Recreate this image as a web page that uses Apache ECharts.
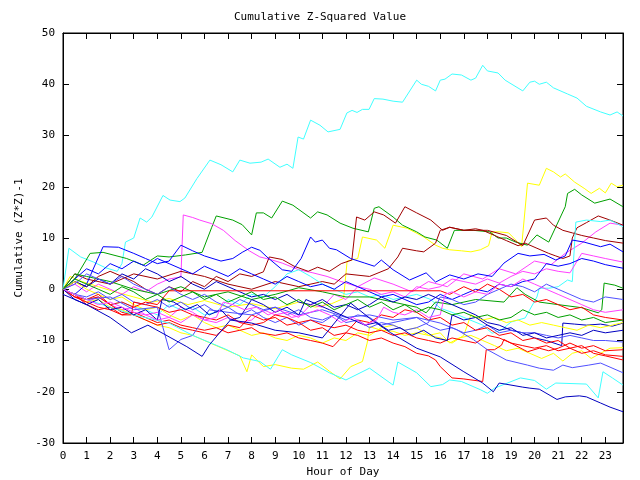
<!DOCTYPE html>
<html><head><meta charset="utf-8">
<script src="https://cdn.jsdelivr.net/npm/echarts@6/dist/echarts.min.js"></script>
<style>html,body{margin:0;padding:0;background:#fff}#c{width:640px;height:480px}</style>
</head><body><div id="c"></div>
<script>
const titleText = "Cumulative Z-Squared Value";
const xTitle = "Hour of Day";
const yTitle = "Cumulative (Z*Z)-1";
const xTickLabels = ["0","1","2","3","4","5","6","7","8","9","10","11","12","13","14","15","16","17","18","19","20","21","22","23"];
const yTickLabels = ["-30","-20","-10","0","10","20","30","40","50"];

const cyanTop = [[0,0],[0.25,8],[0.75,6.3],[1.3,5.3],[1.8,4.2],[2.3,3.5],[2.5,5],[2.65,9.2],[3.0,10],[3.27,13.9],[3.55,13.1],[3.77,14.1],[4.24,18.3],[4.54,17.4],[4.96,17.1],[5.17,17.8],[5.68,21.6],[6.23,25.2],[6.7,24.3],[7.2,22.9],[7.5,25.2],[7.93,24.6],[8.4,24.8],[8.7,25.4],[9.2,23.8],[9.5,24.4],[9.75,23.6],[9.97,29.7],[10.2,29.3],[10.5,33],[10.9,32],[11.24,30.7],[11.75,31.2],[12.04,34.4],[12.26,34.9],[12.47,34.5],[12.7,35.1],[12.98,35.1],[13.2,37.2],[13.57,37.1],[14,36.7],[14.4,36.5],[15,40.8],[15.2,40.0],[15.5,39.6],[15.8,38.7],[16,40.8],[16.2,41],[16.5,42],[16.9,41.8],[17.3,40.8],[17.5,41.2],[17.8,43.7],[18,42.6],[18.45,42.2],[18.75,40.8],[19.5,38.7],[19.8,40.4],[20,40.6],[20.2,40.0],[20.5,40.4],[20.8,39.3],[21.4,38.1],[21.8,37.3],[22.2,35.7],[22.8,34.6],[23.2,34],[23.5,34.6],[23.75,33.8]];
const yellowHi = [[0,0],[0.3,2.5],[0.8,1.5],[1.5,0.5],[2.2,-0.5],[3,-1.5],[3.8,-2.5],[4.5,-1.8],[5.3,-3],[6,-2.2],[7,-3.5],[8,-2.8],[9,-3.8],[10,-2.5],[10.7,-3.5],[11.4,-2.8],[11.9,-1.8],[12.05,5.5],[12.5,6],[12.7,10.2],[13.3,9.6],[13.65,8],[14,12.5],[14.6,11.9],[15.3,10.2],[15.8,8.6],[16.1,8],[16.4,7.7],[16.9,7.5],[17.3,7.3],[17.7,7.7],[18.05,8.5],[18.2,11.2],[18.5,11.2],[18.9,11],[19.2,9.6],[19.45,8.3],[19.7,20.7],[20.2,20.3],[20.5,23.6],[20.8,22.9],[21.1,21.9],[21.3,22.5],[21.7,20.9],[22.1,19.7],[22.4,18.7],[22.75,19.7],[23.0,18.8],[23.25,20.7],[23.5,20],[23.75,20.3]];
const greenHi = [[0,0],[0.5,2],[1.15,7],[1.7,7.2],[2.7,6],[3.4,4.7],[4,6.5],[4.5,6.3],[5.2,6.7],[5.9,7.2],[6.3,12],[6.5,14.3],[7.2,13.5],[7.6,12.6],[8,10.6],[8.2,14.9],[8.5,14.9],[8.85,13.9],[9.3,17.2],[9.75,16.4],[10.5,13.9],[10.8,15.1],[11.2,14.5],[11.75,12.9],[12.3,11.9],[12.95,11.2],[13.2,15.8],[13.4,16.1],[14,14.1],[14.4,12.5],[15,11.2],[15.35,10.2],[15.85,9.6],[16.3,8],[16.6,11.5],[17.4,11.5],[18.1,11.2],[18.45,10],[18.8,10],[19.2,9.2],[19.7,8.6],[20.1,10.6],[20.6,9.2],[21.3,16.1],[21.4,18.7],[21.7,19.5],[22,18.4],[22.55,16.8],[23.2,17.6],[23.75,16.1]];
const magentaHi = [[0,0],[0.5,1],[1,-0.5],[1.5,1],[2,0],[2.5,-1],[3,0.5],[3.5,-0.5],[4,1],[4.5,2],[5.0,2.4],[5.1,14.5],[5.5,14],[5.8,13.5],[6.3,12.8],[6.8,11.5],[7.3,9.5],[7.9,7.5],[8.35,6.3],[8.8,5.8],[9.3,5.1],[10,3.8],[10.6,3.2],[11.2,2.5],[11.8,1.5],[12.5,0.5],[13.2,2.2],[14,1],[14.8,-0.5],[15.5,1.5],[16.3,0.5],[17,3],[17.8,2],[18.5,4],[19.2,3],[20,5.5],[20.7,4.8],[21.3,7],[22,9],[22.6,11.2],[23.2,12.9],[23.75,12.5]];
const darkRed1 = [[0,0],[0.5,1.5],[1,0.5],[1.5,2.5],[2,3.5],[2.5,2.5],[3,1.5],[3.5,0],[4,-1],[4.5,0.5],[5,-0.5],[5.5,1.5],[6,0.5],[6.5,2.5],[7,1.5],[7.5,3],[8,2.5],[8.5,3.4],[8.75,6.3],[9.3,5.8],[9.8,4.5],[10.4,3.5],[10.8,4.3],[11.3,3.5],[11.8,5],[12.25,5.7],[12.45,14.1],[12.8,13.5],[13.2,15.1],[13.6,14.5],[14.1,12.9],[14.5,16.1],[15,14.9],[15.6,13.5],[16.1,11.5],[16.4,12.1],[17,11.5],[17.5,11.8],[17.8,11.5],[18.3,10.5],[18.8,9.5],[19.3,8.5],[19.6,9],[20.1,8],[20.6,7],[20.9,6.5],[21.2,6],[21.5,6.5],[21.6,10],[21.8,12],[22.2,13],[22.7,14.3],[23.2,13.5],[23.75,12.5]];
const darkRed2 = [[0,0],[0.5,3],[1,2],[2,1],[3,3],[4,2],[5,3.5],[6,2.5],[7,1],[8,0],[9,1.5],[10,0.5],[11,1.5],[11.5,1],[12,3],[13,2.5],[13.8,4],[14.2,6.3],[14.4,8],[15,7.5],[15.3,7.3],[15.8,9],[16,11.5],[16.4,12.1],[17,11.5],[18,11.5],[18.8,10.5],[19.5,8.5],[20,13.5],[20.5,13.9],[20.8,12.5],[21.2,11.5],[21.6,11],[22,10.5],[22.5,10],[23,9.5],[23.75,9]];
const cyanMid = [[0,0],[0.5,-1],[1,-2],[1.5,-1.5],[2,-3],[2.5,-2.5],[3,-3.5],[3.5,-4],[4,-5],[4.5,-3],[5,-4],[5.5,-3.5],[6,-5],[6.5,-4.5],[7,-2],[7.5,-3],[8,-1],[8.5,-1.5],[9,0.5],[9.5,3],[10,3.8],[10.5,2.5],[11,1],[11.5,0],[12,-1],[12.5,-0.5],[13,-1.5],[13.5,-1],[14,-2],[14.5,-1.5],[15,-1],[15.6,-2],[16,-3.7],[16.5,-4.5],[17,-5.5],[17.8,-7],[18.2,-8.6],[18.6,-7.9],[19,-6.4],[19.6,-5.6],[20.1,-1.5],[20.2,0.2],[20.6,0.2],[21,0.5],[21.4,1.8],[21.6,1.5],[21.75,13.1],[22.2,13.5],[22.8,13.2],[23.2,13.5],[23.75,12.2]];
const blueB = [[0,0],[0.5,-1],[1,1],[1.7,8.3],[2.35,8.2],[3,7],[3.5,6],[4,5],[4.5,5.5],[5,8.6],[5.5,7.5],[6,6.5],[6.7,5.5],[7.2,6],[7.6,7.2],[8,8.2],[8.35,7.6],[8.65,6.3],[9.3,3.8],[9.7,3.5],[10.1,6],[10.5,10.2],[10.7,9.2],[11,9.6],[11.3,8],[11.6,7.7],[12.2,6],[12.8,5.1],[13.2,4.5],[13.5,5.7],[14,3.8],[14.7,1.8],[15.4,3.2],[15.8,1.4],[16.4,2.8],[17,2],[17.6,3],[18.2,2.5],[18.7,5.1],[19.3,7],[19.8,6.5],[20.4,6.8],[20.9,5.7],[21.3,6.5],[21.6,9.6],[22.1,9.2],[22.8,8.3],[23.2,8.8],[23.75,7.3]];
const magentaMid = [[0,0],[0.5,-1.5],[1,-2.5],[1.5,-1.5],[2,-3],[2.5,-4],[3,-3.5],[3.5,-5],[4,-4.5],[4.5,-5.5],[5,-3.5],[5.5,-4.5],[6,-6],[6.5,-6.5],[7,-5.5],[7.5,-6.5],[8,-6],[8.5,-4],[9,-5],[9.5,-4.5],[10,-5.5],[10.5,-3],[11,-3.5],[11.5,-1],[12,-2],[12.5,0.5],[13,0],[13.5,-1],[14,-0.5],[14.5,-1.5],[15,0.5],[15.5,0],[16,0.5],[16.5,2],[17,1.5],[17.5,1],[18,2],[18.5,1.2],[19,2.5],[19.5,3.5],[20,3],[20.5,4],[21,3.5],[21.5,3.2],[22,7],[22.5,6.5],[23,6],[23.75,5.3]];
const blueMid = [[0,0],[0.5,2],[1,4],[1.5,3],[2,5],[2.5,4],[3,5.5],[3.5,4.5],[4,6],[4.5,5],[5,4],[5.5,3],[6,4.5],[6.5,3.5],[7,2.5],[7.5,4],[8,3],[8.5,2],[9,1],[9.5,2.5],[10,1.5],[10.5,0.5],[11,1],[11.5,0],[12,1.5],[12.5,0.5],[13,-0.5],[13.5,-1.5],[14,-1],[14.5,-2],[15,-3],[15.5,-2.5],[16,-1],[16.5,-2],[17,-1],[17.5,0],[18,-0.5],[18.5,1],[19,0.5],[19.5,1.5],[20,2],[20.5,5],[21,4.5],[21.5,5],[22,6],[22.5,5.5],[23,4.8],[23.75,4.1]];
const greenMid = [[0,0],[0.5,3],[1,2.5],[2,1.5],[3,0],[4,-1],[5,0.5],[6,-1.5],[7,-0.5],[8,-2],[9,-1],[10,0.3],[11,-0.5],[12,-1.5],[13,-1.5],[14,-2.5],[15,-3.5],[15.4,-4.6],[15.8,-2.5],[16.5,-3],[17.5,-2],[18.7,-2.5],[19.25,0.3],[19.6,-1],[20.2,-2.5],[21,-3],[22,-3.6],[22.7,-4.6],[22.85,-4],[22.95,1.2],[23.4,0.8],[23.75,0.2]];
const blueA = [[0,0],[0.5,1.5],[1,0.5],[1.5,2],[2,1],[2.5,3],[3,2],[3.5,4],[4,3],[4.5,1.5],[5,2.5],[5.5,1],[6,0],[6.5,1.5],[7,0.5],[7.5,-0.5],[8,-1.5],[8.5,-1],[9,-2],[9.5,-1],[10,-2.5],[10.5,-3],[11,-2],[11.5,-3.5],[12,-3],[12.5,-4],[13,-3],[13.5,-1.5],[14,-2.5],[14.5,-1.5],[15,-2],[15.5,-1],[16,-2],[16.5,-3],[17,-4],[17.5,-5],[18,-6.5],[18.5,-7],[19,-8],[19.5,-8.5],[20,-9.5],[20.5,-10],[21.15,-11],[21.2,-6.6],[21.7,-6.8],[22.2,-7],[22.8,-6.8],[23.3,-7.2],[23.75,-6.6]];
const yellowLow = [[0,0],[0.5,-1],[1,-2.5],[1.5,-2],[2,-3.5],[2.5,-4],[3,-5],[3.5,-6],[4,-7],[4.5,-7.5],[5,-8.5],[5.5,-9],[6,-10],[6.5,-11],[7,-12],[7.5,-13],[7.8,-16.1],[8,-12.8],[8.5,-15.1],[9,-14.7],[9.7,-15.4],[10.2,-15.6],[10.8,-14.2],[11.3,-16],[11.75,-17.5],[12.2,-15.1],[12.7,-14.1],[12.9,-10.5],[13,-7.3],[13.5,-8],[14,-8.2],[14.5,-9],[15,-8.5],[15.5,-9],[16,-8.5],[16.4,-10.5],[16.8,-9.5],[17.3,-9],[17.8,-10],[18.3,-11],[18.8,-12],[19.3,-11.5],[19.8,-12.5],[20.3,-13.5],[20.8,-12.5],[21.2,-14],[21.6,-12.5],[22,-12],[22.4,-13.5],[22.8,-12.5],[23.2,-11.5],[23.75,-11.4]];
const yellowMid = [[0,0],[0.5,1.5],[1,0],[1.5,-1],[2,-2],[2.5,-1.5],[3,-3],[3.5,-4],[4,-3.5],[4.5,-5],[5,-6],[5.5,-5],[6,-6.5],[6.5,-7.5],[7,-7],[7.5,-8],[8,-9],[8.5,-8.5],[9,-9.5],[9.5,-10],[10,-9],[10.5,-9.5],[11,-10.5],[11.5,-9.5],[12,-10],[12.5,-8.5],[13,-9],[13.5,-7.5],[14,-7],[14.5,-8],[15,-7.5],[15.5,-9],[16,-9.5],[16.5,-10.5],[17,-9],[17.3,-5],[17.8,-6],[18.3,-5.5],[18.8,-6.5],[19.3,-6],[19.8,-7],[20.3,-6.5],[20.8,-7],[21.3,-7.5],[21.8,-8],[22.3,-7],[22.8,-7.5],[23.3,-7],[23.75,-6.5]];
const blueC = [[0,0],[0.5,-1],[1,-1.5],[1.5,-0.5],[2,-2],[2.5,-1],[3,-2.5],[3.5,-3],[4,-2],[4.5,-3.5],[5,-2.5],[5.5,-4],[6,-3],[6.5,-4.5],[7,-3.5],[7.5,-5],[8,-4],[8.5,-5.5],[9,-6.5],[9.5,-5.5],[10,-7],[10.5,-6],[11,-6.5],[11.5,-5],[12,-6],[12.5,-5],[13,-5.5],[13.5,-7],[14,-6.5],[14.5,-6],[15,-5.5],[15.5,-7],[16,-8],[16.5,-7.5],[17,-8.5],[17.5,-8],[18,-7],[18.5,-8.5],[19,-8],[19.5,-8.5],[20,-8.5],[20.5,-9],[21,-9.5],[21.5,-9],[22,-9.5],[22.5,-10],[23,-10],[23.75,-10.3]];
const redA = [[0,0],[0.5,-1.5],[1,-2.5],[1.5,-3.5],[2,-4],[2.5,-5],[3,-4.5],[3.5,-5.5],[4,-6.5],[4.5,-6],[5,-7],[5.5,-7.5],[6,-8],[6.5,-7.5],[7,-8.5],[7.5,-8],[8,-7.5],[8.35,-8.5],[9,-9],[9.5,-8.5],[10,-9.5],[10.5,-10],[11,-10.5],[11.45,-11.2],[12,-8.5],[12.5,-9],[13,-10],[13.5,-9.5],[14,-10.5],[14.5,-11.2],[15,-12.5],[15.5,-13],[15.8,-13.8],[16,-15.1],[16.5,-17.3],[17,-17.5],[17.8,-18],[17.95,-11.8],[18.3,-11.8],[18.6,-10.9],[18.7,-9.8],[19,-10.5],[19.7,-12.2],[20.2,-11.5],[20.6,-12],[21,-11.5],[21.5,-10.5],[22,-11.5],[22.5,-11],[23,-12],[23.75,-11.8]];
const redB = [[0,0],[0.5,-1],[1,-3],[1.5,-4],[2,-3.5],[2.5,-5],[2.9,-5],[3,-2.5],[3.5,-3],[4,-3.5],[4.5,-4.5],[5,-4],[5.5,-5],[6,-5.5],[6.5,-6],[7,-5],[7.5,-6.5],[8,-7],[8.5,-6.5],[9,-5],[9.5,-5.5],[10,-6.5],[10.5,-6],[11,-7],[11.5,-7.5],[12,-7],[12.5,-8],[13,-8.5],[13.5,-8],[14,-9],[14.5,-8.5],[15,-9.5],[15.5,-10],[16,-10.5],[16.5,-9.5],[17,-10],[17.5,-10.5],[18,-9],[18.5,-9.5],[19,-10.5],[19.5,-11],[20,-11.5],[20.5,-11],[21,-12],[21.5,-11.5],[22,-12.5],[22.5,-12],[23,-12.8],[23.75,-13.1]];
const redC = [[0,0],[0.5,-1],[1,-2],[1.5,-1.5],[2,-3],[2.5,-4.5],[3,-5],[3.5,-6],[4,-7],[4.5,-6.5],[5,-7.5],[5.5,-8],[6,-8.5],[6.5,-9],[7,-7],[7.5,-7.5],[8,-5],[8.5,-6],[9,-5.5],[9.5,-7],[10,-6.5],[10.5,-8],[11,-7.5],[11.5,-9],[12,-8.5],[12.5,-6],[13,-6.5],[13.5,-5],[14,-5.5],[14.5,-4],[15,-4.5],[15.5,-6],[16,-5.5],[16.5,-7],[17,-6.5],[17.5,-8],[18,-7.5],[18.5,-9],[19,-8.5],[19.5,-10],[20,-9.5],[20.5,-10.5],[21,-10],[21.5,-11.5],[22,-11],[22.5,-12.5],[23,-13],[23.75,-13.8]];
const redFlat = [[0,0],[0.5,-1.5],[1,-2],[1.5,-1],[2,-3],[2.5,-2.5],[3,-3.5],[3.5,-2.5],[4,-3],[4.5,-0.3],[16,-0.3],[16.4,-1],[17,0.5],[17.5,-0.5],[18,1],[18.5,0],[19,-1.5],[19.5,-1],[20,-2.5],[20.5,-2],[21,-3],[21.5,-4],[22,-3.5],[22.5,-5],[23,-5.5],[23.75,-6]];
const lightBlueLow = [[0,0],[1,-2],[2,-1.5],[3,-4],[4,-3.5],[4.5,-11.8],[5,-9.8],[5.5,-9],[6.2,-4],[7,-4.5],[8,-5],[9,-3.5],[10,-5],[11,-4],[12,-5.5],[13,-5],[14,-6],[15,-5.5],[16,-6.6],[16.7,-7.9],[17.4,-9.8],[18,-11.8],[18.8,-13.8],[19.7,-14.8],[20.2,-15.4],[20.8,-15.8],[21.2,-14.8],[21.6,-15.3],[22.3,-14.8],[22.8,-14.4],[23.2,-15.2],[23.75,-16.3]];
const cyanLow = [[0,0],[1,-2],[2,-3.5],[3,-5],[4.5,-6.6],[5.5,-9],[6.95,-11.8],[7.65,-13.4],[8.35,-14.1],[8.8,-15.6],[9.3,-11.8],[9.7,-12.8],[10.5,-14.3],[11.3,-16.3],[12,-17.7],[13,-15.4],[14,-18.7],[14.2,-14.2],[15,-16.3],[15.6,-19],[16.1,-18.6],[16.4,-17.7],[16.9,-18],[17.7,-19.6],[18,-20.3],[18.3,-19.3],[19.4,-17.3],[20,-17.8],[20.5,-19.5],[20.9,-18.3],[22.2,-18.5],[22.7,-21.2],[22.9,-16.1],[23.3,-17.3],[23.75,-18.7]];
const blueLow = [[0,-1],[1,-3],[2,-5.5],[2.9,-8.5],[3.6,-7],[5.25,-11.2],[5.9,-13.1],[6.2,-10.9],[7.1,-6],[8,-6.6],[9,-8],[10,-8.5],[11,-9.5],[12.2,-2.7],[13.1,-6],[13.9,-8.5],[15,-11.5],[16,-13.2],[17,-16.1],[17.8,-18.3],[18.25,-20],[18.5,-18.3],[19,-18.7],[19.5,-19.1],[19.8,-19.3],[20.2,-19.5],[20.95,-21.5],[21.3,-21],[21.9,-20.8],[22.2,-21],[22.8,-22.2],[23.2,-23],[23.75,-23.9]];
const lightBlueMid = [[0,0],[0.5,1],[1,3],[1.5,2],[2,1],[2.5,2.5],[3,1],[3.5,0],[4,-1],[4.5,0.5],[5,-1],[5.5,-2],[6,-1],[6.5,-2.5],[7,-3.5],[7.5,-2],[8,-3],[8.5,-4],[9,-3.5],[9.5,-5],[10,-4],[10.5,-5.5],[11,-6],[11.5,-5],[12,-6.5],[12.5,-6],[13,-7.5],[13.5,-6.5],[14,-7],[14.5,-8],[15,-7.5],[15.5,-6.5],[16,-1.5],[16.5,-2],[17,-3],[17.5,-2.5],[18,-1],[18.5,0],[19,1],[19.5,0.5],[20,-0.5],[20.5,1],[21,0],[21.5,-1],[22,-2],[22.5,-2.5],[23,-1.5],[23.75,-2]];
const darkBlueMid = [[0,0],[0.5,-2],[1,-3],[1.5,-2],[2,-4],[2.5,-3.5],[3,-5],[3.5,-4],[4,-6],[4.2,-2],[4.7,-2.5],[5.2,-4],[5.7,-3],[6.2,-5],[6.7,-4],[7.1,-6],[7.5,-5.5],[8,-2],[8.5,-3],[9,-4.5],[9.5,-3.5],[10,-5],[10.3,-2],[10.8,-3],[11.3,-4],[11.8,-5],[12.3,-6],[12.8,-7],[13.3,-6.5],[13.8,-8],[14.3,-7.5],[14.8,-9],[15.3,-8],[15.8,-9.5],[16.3,-10],[16.5,-5],[17,-6],[17.5,-5.5],[18,-7],[18.5,-8],[19,-7.5],[19.5,-9],[20,-8.5],[20.5,-9.5],[21,-9],[21.5,-8.5],[22,-9],[22.5,-8],[23,-8.5],[23.75,-8]];
const magentaLow = [[0,0],[0.5,-1],[1,-2],[1.5,-3],[2,-2.5],[2.5,-3.5],[3,-4.5],[3.5,-5],[4,-6],[4.5,-5.5],[5,-6.5],[5.5,-5],[6,-6],[6.5,-5.5],[6.8,-2.5],[7.2,-3],[7.7,-4],[8.2,-3.5],[8.7,-5],[9.2,-4],[9.7,-5.5],[10.2,-5],[10.8,-4],[11.3,-5],[11.8,-6.5],[12.3,-5.5],[12.8,-7],[13.3,-6],[13.6,-3.5],[14,-4.5],[14.5,-5],[15,-4],[15.5,-5.5],[16,-5],[16.2,-1],[16.5,-0.5],[17,-1.5],[17.5,-0.5],[18,-1],[18.5,1],[19,0.5],[19.5,2],[20,1],[20.5,0],[21,-1],[21.5,-2],[22,-3],[22.5,-4],[23,-4.5],[23.75,-4]];
const greenLow = [[0,0],[0.5,2],[1,1],[1.5,0],[2,-1],[2.5,0.5],[3,-0.5],[3.5,-2],[4,-1],[4.5,-2.5],[5,-1.5],[5.5,-0.5],[6,-2],[6.5,-1],[7,-2.5],[7.5,-1.5],[8,-0.5],[8.5,-2],[9,-1.5],[9.5,-3],[10,-2],[10.5,-3.5],[11,-2.5],[11.5,-4],[12,-3],[12.5,-2],[13,-3.5],[13.5,-2.5],[14,-4],[14.5,-3],[15,-4.5],[15.5,-3.5],[16,-4],[16.5,-5],[17,-4.5],[17.5,-5.5],[18,-5],[18.5,-6],[19,-5.5],[19.5,-4],[20,-5],[20.5,-4.5],[21,-5.5],[21.5,-5],[22,-6],[22.5,-5.5],[23,-6.5],[23.75,-6]];

const seriesData = [cyanTop, yellowHi, greenHi, magentaHi, darkRed1, darkRed2, cyanMid, blueB, magentaMid, blueMid, greenMid, blueA, yellowLow, yellowMid, blueC, redA, redB, redC, redFlat, lightBlueLow, cyanLow, blueLow, lightBlueMid, darkBlueMid, magentaLow, greenLow];
const seriesColors = ["#40ffff","#ffff00","#00a000","#ff40ff","#a00000","#a00000","#40ffff","#0000ff","#ff40ff","#0000ff","#00a000","#0000c0","#ffff00","#ffff00","#5050ff","#ff0000","#ff0000","#ff0000","#ff0000","#5050ff","#40ffff","#0000c0","#5050ff","#0000c0","#ff40ff","#00a000"];

const font = "DejaVu Sans Mono";
const chart = echarts.init(document.getElementById('c'), null, {renderer:'canvas'});
const axisCommon = {
  type:'value', axisLine:{show:true, onZero:false, lineStyle:{color:'#000', width:1}},
  axisTick:{show:true, inside:true, length:6, lineStyle:{color:'#000'}},
  splitLine:{show:false}
};
chart.setOption({
  animation:false,
  backgroundColor:'#fff',
  title:{text:titleText, left:'center', top:7, textStyle:{fontFamily:font, fontSize:11, fontWeight:'normal', color:'#000'}},
  grid:{left:63, right:17, top:33, bottom:37, show:true, borderColor:'#000', borderWidth:1, containLabel:false, outerBoundsMode:'none'},
  xAxis:[
    Object.assign({}, axisCommon, {min:0, max:23.75, interval:1, position:'bottom',
      name:xTitle, nameLocation:'middle', nameGap:24, nameTextStyle:{fontFamily:font, fontSize:11, color:'#000'},
      axisLabel:{fontFamily:font, fontSize:11, color:'#000', margin:8,
        formatter:(v)=>{ const i = xTickLabels.indexOf(String(v)); return i>=0 ? xTickLabels[i] : ''; }}}),
    Object.assign({}, axisCommon, {min:0, max:23.75, interval:1, position:'top', axisLabel:{show:false}})
  ],
  yAxis:[
    Object.assign({}, axisCommon, {min:-30, max:50, interval:10, position:'left',
      name:yTitle, nameLocation:'middle', nameGap:36, nameRotate:90, nameTextStyle:{fontFamily:font, fontSize:11, color:'#000'},
      axisLabel:{fontFamily:font, fontSize:11, color:'#000', margin:8,
        formatter:(v)=>{ const i = yTickLabels.indexOf(String(v)); return i>=0 ? yTickLabels[i] : ''; }}}),
    Object.assign({}, axisCommon, {min:-30, max:50, interval:10, position:'right', axisLabel:{show:false}})
  ],
  series: seriesData.map((d,i)=>({type:'line', data:d, xAxisIndex:0, yAxisIndex:0, showSymbol:false, symbol:'none',
    lineStyle:{width:1, color:seriesColors[i]}, itemStyle:{color:seriesColors[i]}, silent:true, z:2}))
});
</script>
</body></html>
